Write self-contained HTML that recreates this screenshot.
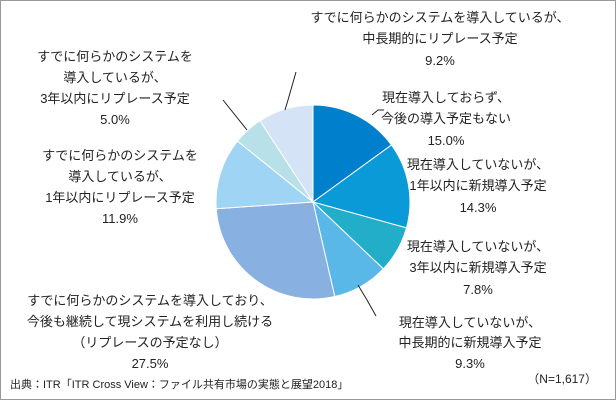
<!DOCTYPE html>
<html><head><meta charset="utf-8"><style>
body{margin:0;background:#fff}
svg{display:block}
text{font-family:"Liberation Sans","Noto Sans CJK JP",sans-serif;font-size:13px;fill:#222}
</style></head><body>
<svg width="616" height="400" viewBox="0 0 616 400">
<rect x="0.5" y="0.5" width="615" height="399" fill="#fff" stroke="#999"/>
<g id="slices"></g>
<g stroke="#222" stroke-width="1" fill="none">
<polyline points="223,100 247,130"/>
<polyline points="296,72 288,100 285,110"/>
<polyline points="372,115 378,110 384,110"/>
<polyline points="358,285 367,300 376,316"/>
</g>
<g text-anchor="middle">
<text x="440" y="22"><tspan x="440">すでに何らかのシステムを導入しているが、</tspan><tspan x="440" dy="21">中長期的にリプレース予定</tspan><tspan x="440" dy="22">9.2%</tspan></text>
<text x="446" y="102"><tspan x="446">現在導入しておらず、</tspan><tspan x="446" dy="21">今後の導入予定もない</tspan><tspan x="446" dy="22">15.0%</tspan></text>
<text x="478" y="169"><tspan x="478">現在導入していないが、</tspan><tspan x="478" dy="21">1年以内に新規導入予定</tspan><tspan x="478" dy="22">14.3%</tspan></text>
<text x="478" y="251"><tspan x="478">現在導入していないが、</tspan><tspan x="478" dy="21">3年以内に新規導入予定</tspan><tspan x="478" dy="22">7.8%</tspan></text>
<text x="470" y="327"><tspan x="470">現在導入していないが、</tspan><tspan x="470" dy="20">中長期的に新規導入予定</tspan><tspan x="470" dy="21">9.3%</tspan></text>
<text x="115" y="61"><tspan x="115">すでに何らかのシステムを</tspan><tspan x="115" dy="21">導入しているが、</tspan><tspan x="115" dy="21">3年以内にリプレース予定</tspan><tspan x="115" dy="21">5.0%</tspan></text>
<text x="120" y="160"><tspan x="120">すでに何らかのシステムを</tspan><tspan x="120" dy="21">導入しているが、</tspan><tspan x="120" dy="21">1年以内にリプレース予定</tspan><tspan x="120" dy="21">11.9%</tspan></text>
<text x="150" y="305"><tspan x="150">すでに何らかのシステムを導入しており、</tspan><tspan x="150" dy="21">今後も継続して現システムを利用し続ける</tspan><tspan x="150" dy="21">（リプレースの予定なし）</tspan><tspan x="150" dy="21">27.5%</tspan></text>
</g>
<text x="10" y="388" style="font-size:11px">出典：ITR「ITR Cross View：ファイル共有市場の実態と展望2018」</text>
<text x="597" y="383" text-anchor="end" style="font-size:12px">（N=1,617）</text>
</svg>
<script>
const categories=["今後の導入予定もない","1年以内に新規導入予定","3年以内に新規導入予定","中長期的に新規導入予定","継続利用","1年以内にリプレース予定","3年以内にリプレース予定","中長期的にリプレース予定"];
const values=[15.0,14.3,7.8,9.3,27.5,11.9,5.0,9.2];
const colors=["#0080cc","#0a9ad8","#22adc8","#5ab8e8","#88b0e0","#a0d4f4","#b8e0e8","#d4e4f6"];
const cx=313,cy=202,r=97;
const g=document.getElementById('slices');
const total=values.reduce((a,b)=>a+b,0);
let a0=0;
values.forEach((v,i)=>{
  const a1=a0+v/total*2*Math.PI;
  const p=(a)=>[cx+r*Math.sin(a),cy-r*Math.cos(a)];
  const [x0,y0]=p(a0),[x1,y1]=p(a1);
  const large=(a1-a0)>Math.PI?1:0;
  const path=document.createElementNS('http://www.w3.org/2000/svg','path');
  path.setAttribute('d',`M${cx},${cy} L${x0},${y0} A${r},${r} 0 ${large} 1 ${x1},${y1} Z`);
  path.setAttribute('fill',colors[i]);
  path.setAttribute('stroke','#fff');
  path.setAttribute('stroke-width','1');
  
  
  g.appendChild(path);
  a0=a1;
});
</script>
</body></html>
